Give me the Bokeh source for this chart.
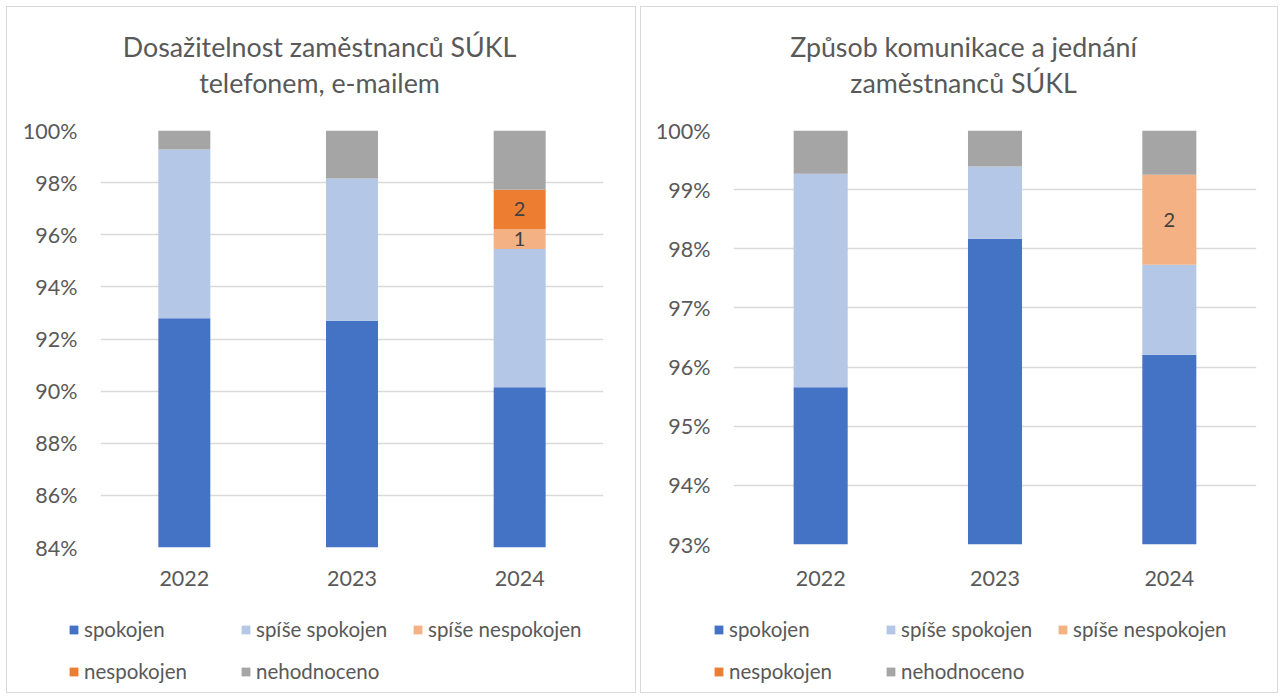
from bokeh.plotting import figure
from bokeh.layouts import row, column
from bokeh.models import (FactorRange, Range1d, Legend, LegendItem,
                          PrintfTickFormatter, FixedTicker, ColumnDataSource)
from bokeh.core.properties import value
from bokeh.embed import file_html
from bokeh.resources import INLINE

# ---------------- data ----------------
years = ["2022", "2023", "2024"]
categories = ["spokojen", "spíše spokojen", "spíše nespokojen", "nespokojen", "nehodnoceno"]
colors = ["#4472C4", "#B4C7E7", "#F4B183", "#ED7D31", "#A5A5A5"]

# Dosažitelnost zaměstnanců SÚKL telefonem, e-mailem (% of answers)
dos_spokojen = [92.80, 92.70, 90.15]
dos_spise_spokojen = [6.47, 5.46, 5.30]
dos_spise_nespokojen = [0.0, 0.0, 0.76]
dos_nespokojen = [0.0, 0.0, 1.52]
dos_nehodnoceno = [0.73, 1.84, 2.27]
# data labels (number of answers) shown in the bars
dos_lbl_spise_nespokojen = ["", "", "1"]
dos_lbl_nespokojen = ["", "", "2"]
dos_yticks = [84, 86, 88, 90, 92, 94, 96, 98, 100]

# Způsob komunikace a jednání zaměstnanců SÚKL (% of answers)
kom_spokojen = [95.66, 98.17, 96.21]
kom_spise_spokojen = [3.61, 1.22, 1.52]
kom_spise_nespokojen = [0.0, 0.0, 1.52]
kom_nespokojen = [0.0, 0.0, 0.0]
kom_nehodnoceno = [0.73, 0.61, 0.75]
kom_lbl_spise_nespokojen = ["", "", "2"]
kom_lbl_nespokojen = ["", "", ""]
kom_yticks = [93, 94, 95, 96, 97, 98, 99, 100]

FONT = "Lato"
TXT = "#595959"
TITLE_H = 108
LEG_H = 95


def blank_fig(fw, h, left=0, right=0):
    f = figure(x_range=Range1d(0, fw), y_range=Range1d(0, h),
               frame_width=fw, frame_height=h, min_border=0,
               min_border_left=left, min_border_right=right,
               min_border_top=0, min_border_bottom=0,
               x_axis_location=None, y_axis_location=None,
               output_backend="svg", toolbar_location=None,
               outline_line_color=None, border_fill_alpha=0,
               background_fill_alpha=0)
    f.xgrid.visible = False
    f.ygrid.visible = False
    return f


def make_panel(title1, title2, series, lbl_sn, lbl_n, yticks,
               min_left, frame_w, frame_h, min_right, min_bottom,
               title_cx, legend_x, x_standoff):
    W = min_left + frame_w + min_right

    # ---- title (x measured from the chart frame's left edge) ----
    tf = blank_fig(frame_w, TITLE_H, min_left, min_right)
    tf.text(x=[title_cx, title_cx], y=[TITLE_H - 39.5, TITLE_H - 75.5],
            text=[title1, title2], text_align="center", text_baseline="middle",
            text_font=value(FONT), text_font_size="26.8px", text_color=TXT)

    # ---- chart ----
    keys = ["s", "ss", "sn", "n", "nh"]
    src = ColumnDataSource(dict(years=years, **{k: v for k, v in zip(keys, series)}))
    p = figure(x_range=FactorRange(*years), y_range=Range1d(yticks[0], yticks[-1]),
               frame_width=frame_w, frame_height=frame_h,
               min_border_left=min_left, min_border_right=min_right,
               min_border_top=15, min_border_bottom=min_bottom,
               output_backend="svg", toolbar_location=None,
               outline_line_color=None)
    rs = p.vbar_stack(keys, x="years", width=0.31, color=colors,
                      line_color=None, source=src)

    lx, ly, lt = [], [], []
    for i, yr in enumerate(years):
        base = series[0][i] + series[1][i]
        if lbl_sn[i]:
            lx.append(yr); ly.append(base + series[2][i] / 2); lt.append(lbl_sn[i])
        base2 = base + series[2][i]
        if lbl_n[i]:
            lx.append(yr); ly.append(base2 + series[3][i] / 2); lt.append(lbl_n[i])
    p.text(x=lx, y=ly, text=lt, text_align="center", text_baseline="middle",
           text_font=value(FONT), text_font_size="20px", text_color="#404040")

    p.xgrid.grid_line_color = None
    p.ygrid.grid_line_color = "#D9D9D9"
    p.ygrid.grid_line_width = 1.5
    for ax in (p.xaxis[0], p.yaxis[0]):
        ax.axis_line_color = None
        ax.major_tick_line_color = None
        ax.minor_tick_line_color = None
        ax.major_label_text_font = FONT
        ax.major_label_text_font_size = "21.5px"
        ax.major_label_text_color = TXT
    p.yaxis.ticker = FixedTicker(ticks=yticks)
    p.yaxis.formatter = PrintfTickFormatter(format="%d%%")
    p.yaxis.major_label_standoff = 17
    p.xaxis.major_label_standoff = x_standoff

    # ---- legend (swatch renderers sit outside the visible range) ----
    lf = blank_fig(W, LEG_H)
    dummies = [lf.vbar(x=[-1000], top=[-1000], bottom=[-1001], width=1,
                       color=c, line_color=None) for c in colors]
    items = [LegendItem(label=c, renderers=[r]) for c, r in zip(categories, dummies)]
    leg = Legend(items=items, location=(legend_x, 9), orientation="horizontal", ncols=3,
                 glyph_width=11, glyph_height=11, label_standoff=5, label_width=138,
                 label_height=23, spacing=18, padding=0, margin=0,
                 border_line_color=None, background_fill_alpha=0,
                 label_text_font=FONT, label_text_font_size="20.5px",
                 label_text_color=TXT, click_policy="none")
    lf.add_layout(leg, "center")

    return column(tf, p, lf, spacing=0,
                  styles={"border": "1.5px solid #D9D9D9"})


left = make_panel("Dosažitelnost zaměstnanců SÚKL", "telefonem, e-mailem",
                  [dos_spokojen, dos_spise_spokojen, dos_spise_nespokojen,
                   dos_nespokojen, dos_nehodnoceno],
                  dos_lbl_spise_nespokojen, dos_lbl_nespokojen, dos_yticks,
                  93, 503, 417, 32, 50, 219, 61, 17)
right = make_panel("Způsob komunikace a jednání", "zaměstnanců SÚKL",
                   [kom_spokojen, kom_spise_spokojen, kom_spise_nespokojen,
                    kom_nespokojen, kom_nehodnoceno],
                   kom_lbl_spise_nespokojen, kom_lbl_nespokojen, kom_yticks,
                   92, 523, 414, 21, 53, 230, 72, 20)

layout = row(left, right, spacing=4, margin=(6, 0, 0, 6))
open("out.html", "w").write(file_html(layout, INLINE))
